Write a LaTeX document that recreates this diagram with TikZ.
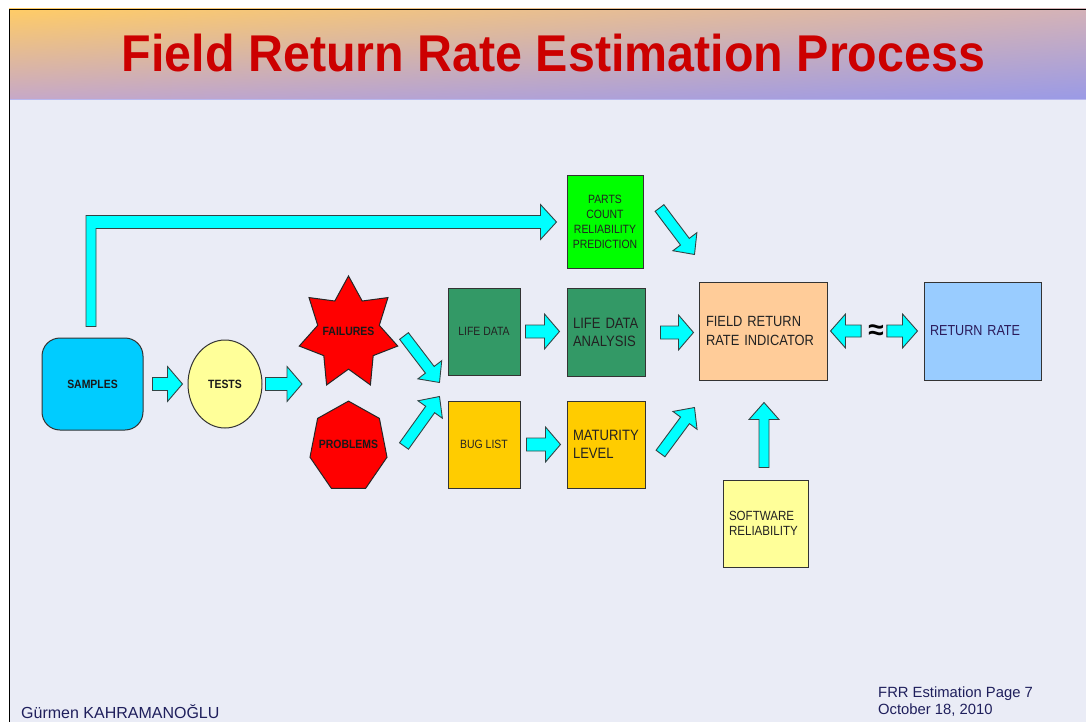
\documentclass[tikz,border=0pt]{standalone}
\usepackage{fontspec}
\setmainfont{Liberation Sans}
\newfontfamily\lblfont{Liberation Sans}[FakeStretch=0.87]
\newfontfamily\ttlfont{Liberation Sans}[FakeStretch=0.936]
\usetikzlibrary{shapes.geometric,calc,shadings}
\definecolor{samplesblue}{HTML}{00CCFF}
\definecolor{lightyellow}{HTML}{FFFF99}
\definecolor{ldgreen}{HTML}{339966}
\definecolor{bugyellow}{HTML}{FFCC00}
\definecolor{partsgreen}{HTML}{00FF00}
\definecolor{frripeach}{HTML}{FFCC99}
\definecolor{rrblue}{HTML}{99CCFF}
\definecolor{arrowcyan}{HTML}{00FFFF}
\definecolor{arrowline}{HTML}{334444}
\definecolor{boxline}{HTML}{333333}
\definecolor{bodybg}{HTML}{EAECF6}
\definecolor{hdrUL}{HTML}{FFCC66}
\definecolor{hdrUR}{HTML}{D4B2B8}
\definecolor{hdrLL}{HTML}{C6A8C8}
\definecolor{hdrLR}{HTML}{9A9AE6}
\definecolor{hdrline}{HTML}{B8B8EE}
\definecolor{titlered}{HTML}{CC0000}
\definecolor{footnavy}{HTML}{1F1F5C}
\definecolor{labeltext}{HTML}{222222}
\definecolor{rrtext}{HTML}{2A1A5A}
% block arrow: #1 start, #2 tip, #3 shaft half width, #4 head half width, #5 head length
\newcommand\barrow[5]{%
  \coordinate (ba) at (#1);
  \coordinate (bb) at (#2);
  \coordinate (bh) at ($(bb)!#5!(ba)$);
  \draw[blockarrow] ($(ba)!#3!90:(bb)$) -- ($(bh)!#3!90:(bb)$) -- ($(bh)!#4!90:(bb)$) -- (bb)
     -- ($(bh)!#4!-90:(bb)$) -- ($(bh)!#3!-90:(bb)$) -- ($(ba)!#3!-90:(bb)$) -- cycle;
}
\begin{document}
\begin{tikzpicture}[x=1pt,y=-1pt,
  box/.style={draw=boxline, line width=1pt, inner sep=0pt, text=labeltext},
  blockarrow/.style={draw=arrowline, line width=0.9pt, fill=arrowcyan, line join=miter},
  redshape/.style={draw=black!85, line width=1pt, fill=red, inner sep=0pt},
  boldlbl/.style={font=\lblfont\bfseries\fontsize{12}{14}\selectfont, text=black!90},
  smalllbl/.style={font=\lblfont\fontsize{12}{15}\selectfont},
  biglbl/.style={font=\lblfont\fontsize{15}{18.5}\selectfont, align=left}
]
\useasboundingbox (0,0) rectangle (1086,722);
\fill[white] (0,0) rectangle (1086,722);
\fill[bodybg] (9,9) rectangle (1086,722);
\shade[upper left=hdrUL, upper right=hdrUR, lower left=hdrLL, lower right=hdrLR] (9,9) rectangle (1086,99);
\draw[hdrline, line width=0.8pt] (9,99.4) -- (1086,99.4);
\draw[black, line width=1.3pt] (9.3,722) -- (9.3,9.3) -- (1086,9.3);

\node[anchor=base, inner sep=0pt, text=titlered, font=\ttlfont\bfseries\fontsize{51.7}{60}\selectfont] (title) at (553.5,72) {Field Return Rate Estimation Process};

% nodes
\node[box, rounded corners=18pt, fill=samplesblue, minimum width=101pt, minimum height=92pt, boldlbl] (samples) at (92.5,384) {SAMPLES};
\node[box, ellipse, fill=lightyellow, minimum width=74pt, minimum height=88pt, boldlbl] (tests) at (225,384) {TESTS};
\node[redshape, star, star points=7, star point ratio=1.6, minimum size=101pt, yscale=1.135] (failures) at (348.5,333.3) {};
\node[boldlbl, inner sep=0pt] (failureslbl) at (348.5,331) {FAILURES};
\node[redshape, regular polygon, regular polygon sides=7, minimum size=79pt, yscale=1.162] (problems) at (348.5,447) {};
\node[boldlbl, inner sep=0pt] (problemslbl) at (348.5,444) {PROBLEMS};

\node[box, fill=ldgreen, minimum width=72pt, minimum height=87pt, smalllbl] (lifedata) at (484,331.5) {LIFE DATA};
\node[box, fill=bugyellow, minimum width=72pt, minimum height=87pt, smalllbl] (buglist) at (484,444.5) {BUG LIST};
\node[box, fill=partsgreen, minimum width=76pt, minimum height=92pt, smalllbl, align=center] (parts) at (605,222) {PARTS\\COUNT\\RELIABILITY\\PREDICTION};
\node[box, fill=ldgreen, text width=66pt, inner xsep=6pt, minimum height=88pt, biglbl] (lda) at (606,332.5) {LIFE DATA\\ANALYSIS};
\node[box, fill=bugyellow, text width=66pt, inner xsep=6pt, minimum height=87pt, biglbl, font=\lblfont\fontsize{15}{18}\selectfont] (maturity) at (606,444.5) {MATURITY\\LEVEL};
\node[box, fill=frripeach, text width=114pt, inner xsep=7pt, minimum height=98pt, biglbl, font=\lblfont\fontsize{14.8}{18.3}\selectfont] (frri) at (763,331) {FIELD RETURN\\RATE INDICATOR};
\node[box, fill=rrblue, text width=105pt, inner xsep=6pt, minimum height=98pt, align=left, text=rrtext, font=\lblfont\fontsize{14.5}{17}\selectfont] (rr) at (982.5,331) {RETURN RATE};
\node[box, fill=lightyellow, text width=73pt, inner xsep=6pt, minimum height=87pt, align=left, font=\lblfont\fontsize{13.3}{15.5}\selectfont] (sw) at (765.5,523.5) {SOFTWARE\\RELIABILITY};
\node[inner sep=0pt, font=\bfseries\fontsize{28}{30}\selectfont] (approx) at (876,332) {≈};

% bent arrow samples -> parts
\coordinate (bst) at ($(samples.north)+(-1.5,-11)$);
\coordinate (btip) at ($(parts.west)+(-10,0)$);
\draw[blockarrow] ($(bst)+(-5,0)$) -- ($(bst |- btip)+(-5,-6.5)$) -- ($(btip)+(-16,-6.5)$) -- ($(btip)+(-16,-17.5)$) -- (btip)
   -- ($(btip)+(-16,17.5)$) -- ($(btip)+(-16,6.5)$) -- ($(bst |- btip)+(5,6.5)$) -- ($(bst)+(5,0)$) -- cycle;

% straight block arrows
\barrow{$(samples.east)+(9,0)$}{$(tests.west)+(-5,0)$}{6.5pt}{17.5pt}{15pt}
\barrow{$(tests.east)+(3,0)$}{$(tests.east -| failures.center)+(-46.5,0)$}{6.5pt}{17.5pt}{15pt}
\barrow{$(failures.center)+(55.5,2.7)$}{$(lifedata.south west)+(-8,7)$}{5.5pt}{15pt}{16pt}
\barrow{$(problems.center)+(55.5,-1)$}{$(buglist.north west)+(-8,-4)$}{5.5pt}{15pt}{16pt}
\barrow{$(lifedata.east)+(5,0)$}{$(lifedata.east -| lda.west)+(-7,0)$}{6.5pt}{17.5pt}{15pt}
\barrow{$(buglist.east)+(6,0)$}{$(buglist.east -| maturity.west)+(-6,0)$}{6.5pt}{17.5pt}{15pt}
\barrow{$(lda.east)+(15,0)$}{$(lda.east -| frri.west)+(-5,0)$}{6.5pt}{17.5pt}{15pt}
\barrow{$(maturity.east)+(15,9)$}{$(frri.south west)+(-4,27)$}{5.5pt}{15pt}{16pt}
\barrow{$(parts.east)+(16,-14)$}{$(frri.north west)+(-4,-27)$}{5.5pt}{15pt}{16pt}
\barrow{$(sw.north)+(-1.5,-12)$}{$(sw.north |- frri.south)+(-1.5,22)$}{5pt}{15pt}{17pt}
\barrow{$(approx.west)+(-7,-1)$}{$(frri.east)+(3,0)$}{6pt}{17pt}{15pt}
\barrow{$(approx.east)+(3,-1)$}{$(rr.west)+(-6,0)$}{6pt}{17pt}{15pt}

% footer
\node[anchor=base west, inner sep=0pt, text=footnavy, font=\fontsize{16}{19}\selectfont] (author) at (21,718.5) {Gürmen KAHRAMANOĞLU};
\node[anchor=base west, inner sep=0pt, text=footnavy, font=\fontsize{14.8}{16.5}\selectfont] (pageinfo) at (878,697.7) {FRR Estimation Page 7};
\node[anchor=base west, inner sep=0pt, text=footnavy, font=\fontsize{14.8}{16.5}\selectfont] (dateinfo) at (878,714) {October 18, 2010};
\end{tikzpicture}
\end{document}
